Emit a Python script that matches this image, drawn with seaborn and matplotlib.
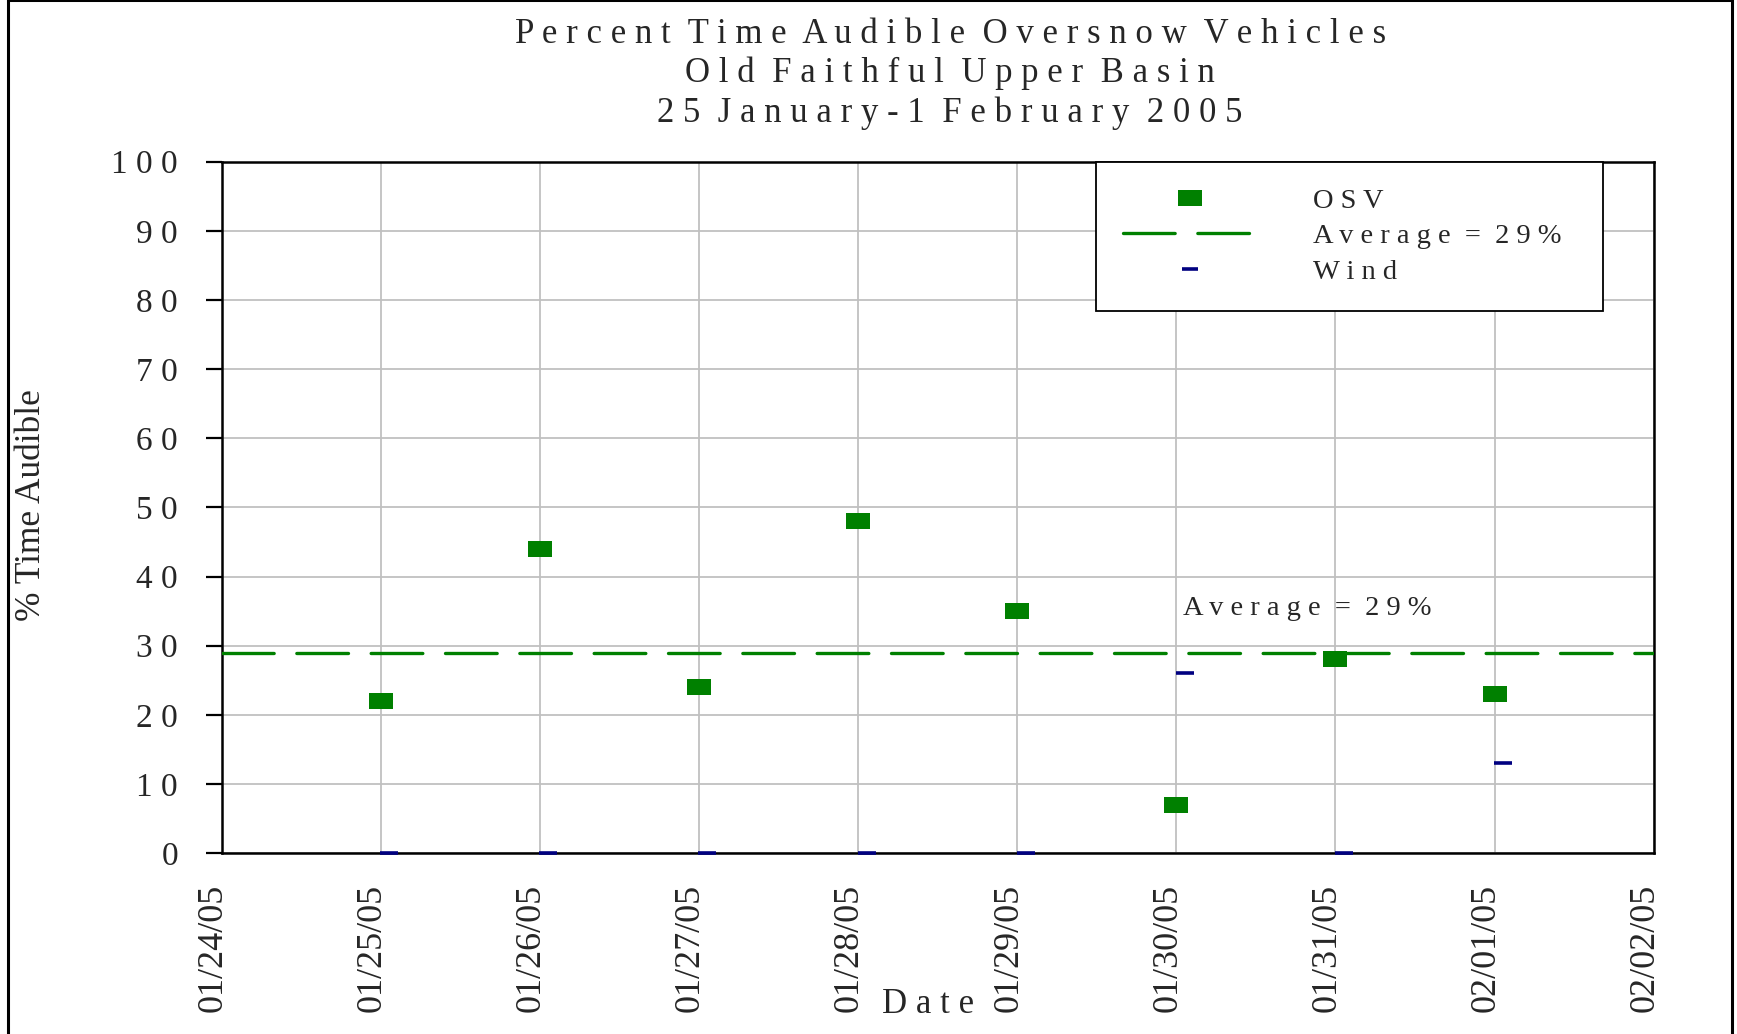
import pandas as pd
import matplotlib.pyplot as plt
import matplotlib.dates as mdates
import seaborn as sns
from matplotlib.lines import Line2D
from matplotlib.patches import Rectangle
from matplotlib.transforms import ScaledTranslation

# --- Data ---
osv_dates = ['2005-01-25', '2005-01-26', '2005-01-27', '2005-01-28',
             '2005-01-29', '2005-01-30', '2005-01-31', '2005-02-01']
osv_pct = [22, 44, 24, 48, 35, 7, 28, 23]
wind_pct = [0, 0, 0, 0, 0, 26, 0, 13]
average_pct = 29
tick_dates = pd.date_range('2005-01-24', '2005-02-02', freq='D')

title_lines = ['Percent Time Audible Oversnow Vehicles',
               'Old Faithful Upper Basin',
               '25 January-1 February 2005']

df = pd.DataFrame({'Date': pd.to_datetime(osv_dates), 'OSV': osv_pct, 'Wind': wind_pct})


def spaced(s):
    # mimic the letter-spaced text of the original
    return '  '.join(' '.join(w) for w in s.split(' '))


sns.set_theme(style='white')
plt.rcParams['font.family'] = ['Liberation Serif', 'DejaVu Serif']

green = '#008000'
navy = '#000080'
rect_marker = [(-1, -0.68), (1, -0.68), (1, 0.68), (-1, 0.68)]

fig = plt.figure(figsize=(17.37, 10.34), dpi=100)
ax = fig.add_axes([0.1276, 0.175, 0.8244, 0.6686])

# gridlines
ax.grid(True, color='#c0c0c0', linewidth=1.3)
ax.set_axisbelow(True)

# average line
ax.axhline(average_pct, color=green, linewidth=2.4, dashes=(15.5, 6.8),
           dash_capstyle='round', zorder=3)

# OSV squares
sns.scatterplot(data=df, x='Date', y='OSV', marker=rect_marker, s=275,
                color=green, linewidth=0, ax=ax, zorder=4)

# wind dashes (drawn starting at the day line, like the original)
sns.scatterplot(data=df, x='Date', y='Wind', marker='_', s=150,
                color=navy, linewidth=2.6, ax=ax, zorder=6)
wind_coll = ax.collections[-1]
wind_coll.set_offset_transform(ax.transData + ScaledTranslation(0.085, 0, fig.dpi_scale_trans))
wind_coll.set_clip_on(False)

ax.text(pd.Timestamp('2005-01-30 01:00'), 35.4, spaced('Average = 29%'),
        fontsize=20.5, va='center', ha='left')

# axes
ax.set_xlim(tick_dates[0], tick_dates[-1])
ax.set_ylim(0, 100)
ax.set_xticks(tick_dates)
ax.xaxis.set_major_formatter(mdates.DateFormatter('%m/%d/%y'))
ax.set_yticks(range(0, 101, 10))
ax.set_yticklabels([spaced(str(v)) for v in range(0, 101, 10)])

ax.tick_params(axis='x', length=0, pad=22, labelsize=26)
ax.tick_params(axis='y', length=11.5, width=1.6, color='black', pad=20, labelsize=24,
               left=True, direction='out')
for lab in ax.get_xticklabels():
    lab.set_rotation(90)
    lab.set_rotation_mode('anchor')
    lab.set_ha('right')
    lab.set_va('baseline')

for sp in ax.spines.values():
    sp.set_color('black')
    sp.set_linewidth(1.8)

ax.set_xlabel(spaced('Date'), fontsize=25)
ax.xaxis.set_label_coords(0.4932, -0.2184)
ax.xaxis.label.set_va('center')
ax.set_ylabel('% Time Audible', fontsize=25.5)
ax.yaxis.set_label_coords(-0.1331, 0.504)
ax.yaxis.label.set_va('center')

# legend
handles = [
    Line2D([], [], linestyle='', marker=rect_marker, markersize=16.6,
           color=green, markeredgewidth=0),
    Line2D([], [], color=green, linewidth=2.4, dashes=(15.5, 6.8), dash_capstyle='round'),
    Line2D([], [], linestyle='', marker='_', markersize=12, markeredgewidth=2.6, color=navy),
]
labels = [spaced('OSV'), spaced('Average = 29%') + '  ', spaced('Wind')]
leg = ax.legend(handles, labels, loc='upper right', bbox_to_anchor=(0.9644, 1.0),
                borderaxespad=0, fontsize=20.5, frameon=True, fancybox=False,
                edgecolor='black', framealpha=1, handlelength=4.7,
                handletextpad=2.0, labelspacing=0.33, borderpad=0.93)
leg.get_frame().set_linewidth(1.3)

# title
fig.text(0.547, 0.9285, '\n'.join(spaced(t) for t in title_lines),
         fontsize=25, ha='center', va='center', linespacing=1.23)

# outer frame
fig.patches.append(Rectangle((0.0046, -0.05), 0.9925, 1.0502, transform=fig.transFigure,
                             fill=False, edgecolor='black', linewidth=2.2))

fig.savefig('out.png', dpi=100)
